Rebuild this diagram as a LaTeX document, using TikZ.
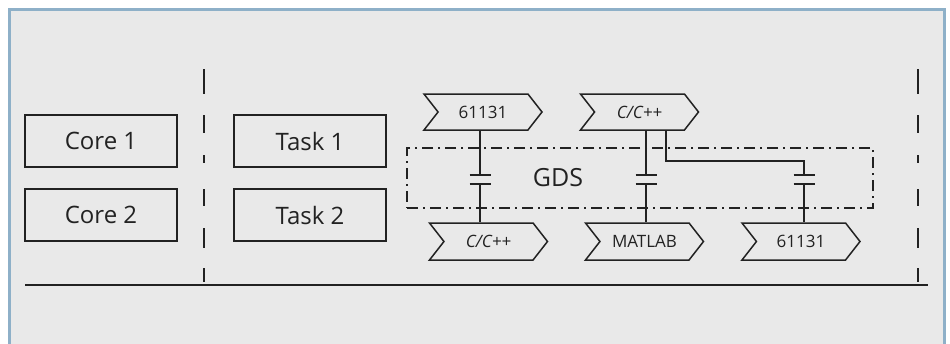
\documentclass[tikz,border=0pt]{standalone}
\usepackage{fontspec}
\setmainfont{Open Sans}
\usetikzlibrary{shapes.symbols,calc}
\definecolor{ink}{HTML}{222222}
\definecolor{framec}{HTML}{8EB0C8}
\definecolor{bgc}{HTML}{E9E9E9}
\begin{document}
\begin{tikzpicture}[x=1pt,y=-1pt,
  box/.style={draw=ink, line width=1.5pt, minimum width=152pt, minimum height=52pt, inner sep=0pt, font=\fontsize{24}{28}\selectfont, text=ink},
  sig/.style={signal, signal from=west, signal to=east, signal pointer angle=104, draw=ink, line width=1.5pt, minimum width=118pt, minimum height=36pt, inner sep=0pt, font=\fontsize{17}{20}\selectfont, text=ink},
  wire/.style={draw=ink, line width=1.5pt},
  sep/.style={draw=ink, line width=1.6pt},
  gdsbox/.style={draw=ink, line width=1.3pt, dash pattern=on 11pt off 5pt on 2pt off 5pt, minimum width=466pt, minimum height=60pt, inner sep=0pt},
  lbl/.style={font=\fontsize{25}{29}\selectfont, text=ink}
]
\useasboundingbox (0,0) rectangle (950,343);
\fill[white] (0,0) rectangle (950,343);
\draw[framec, line width=3pt, fill=bgc] (9.5,9.5) rectangle (944.5,350);

% left blocks
\node[box] (core1) at (101,141) {Core 1};
\node[box] (core2) at (101,215) {Core 2};
\node[box] (task1) at (310,141) {Task 1};
\node[box] (task2) at (310,215) {Task 2};

% separators
\foreach \x in {204,918}{
  \draw[sep] (\x,69) -- (\x,94);
  \draw[sep] (\x,115) -- (\x,133);
  \draw[sep] (\x,155) -- (\x,163);
  \draw[sep] (\x,189) -- (\x,206);
  \draw[sep] (\x,228) -- (\x,248);
  \draw[sep] (\x,268) -- (\x,282);
}
\draw[sep] (25,285) -- (928,285);

% GDS
\node[gdsbox] (gds) at (640,178) {};
\node[lbl] (gdsl) at (558,178) {GDS};

% signals
\node[sig] (t61131) at (483,112) {61131};
\node[sig] (tC) at (639.5,112) {\itshape C/C++};
\node[sig, minimum height=37pt] (bC) at (488.5,241.5) {\itshape C/C++};
\node[sig, minimum height=37pt] (bM) at (644.5,241.5) {MATLAB};
\node[sig, minimum height=37pt] (b61131) at (801,241.5) {61131};

% capacitors
\coordinate (c1) at (480,179.5);
\coordinate (c2) at (646,179.5);
\coordinate (c3) at (804,179.5);
\coordinate (k) at (666,161);
\foreach \c in {c1,c2,c3}{
  \draw[wire] ($(\c)+(-10.5,-4.5)$) -- ($(\c)+(10.5,-4.5)$);
  \draw[wire] ($(\c)+(-10.5,4.5)$) -- ($(\c)+(10.5,4.5)$);
}
\draw[wire] (t61131.south -| c1) -- ($(c1)+(0,-4.5)$);
\draw[wire] ($(c1)+(0,4.5)$) -- (bC.north -| c1);
\draw[wire] (tC.south -| c2) -- ($(c2)+(0,-4.5)$);
\draw[wire] ($(c2)+(0,4.5)$) -- (bM.north -| c2);
\draw[wire] (tC.south -| k) -- (k) -| ($(c3)+(0,-4.5)$);
\draw[wire] ($(c3)+(0,4.5)$) -- (b61131.north -| c3);
\end{tikzpicture}
\end{document}
